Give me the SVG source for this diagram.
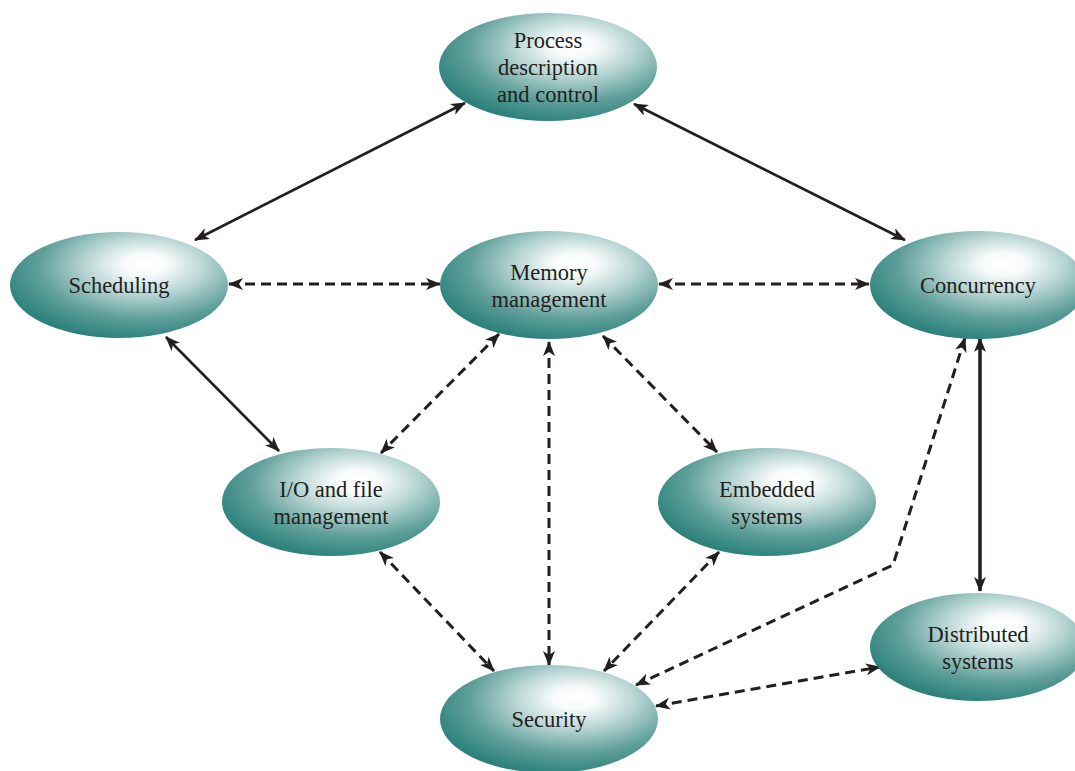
<svg xmlns="http://www.w3.org/2000/svg" width="1075" height="771" viewBox="0 0 1075 771">
<defs>
<radialGradient id="g" cx="0.62" cy="0.34" r="0.68" fx="0.62" fy="0.3">
<stop offset="0" stop-color="#ffffff"/>
<stop offset="0.15" stop-color="#f7fbfb"/>
<stop offset="0.4" stop-color="#b9d6d4"/>
<stop offset="0.72" stop-color="#5f9f9a"/>
<stop offset="1" stop-color="#2d827c"/>
</radialGradient>
<marker id="a" viewBox="0 0 15 12" refX="14" refY="6" markerWidth="15" markerHeight="12" markerUnits="userSpaceOnUse" orient="auto-start-reverse">
<path d="M0,0 L15,6 L0,12 L4,6 Z" fill="#231f20"/>
</marker>
</defs>
<style>
.n ellipse{fill:url(#g)}
.n text{font-family:"Liberation Serif","Times New Roman",serif;font-size:22.5px;fill:#231f20;text-anchor:middle}
.c path{fill:none;stroke:#231f20;stroke-width:2.6;marker-start:url(#a);marker-end:url(#a)}
.c .d{stroke-width:3;stroke-dasharray:10 6}
.c .t{stroke-width:3.6}
</style>
<rect width="1075" height="771" fill="#ffffff"/>
<g class="c" id="connectors">
<path d="M465,103 L195,240"/>
<path d="M634,104 L905,240"/>
<path class="d" d="M229,284 L440,284"/>
<path class="d" d="M659,284 L869,284"/>
<path d="M166,337 L279,451"/>
<path class="d" d="M499,334 L381,453"/>
<path class="d" d="M549,342 L549,665"/>
<path class="d" d="M603,336 L717,452"/>
<path class="t" d="M980,338 L980,591"/>
<path class="d" d="M380,552 L494,671"/>
<path class="d" d="M719,552 L604,671"/>
<path class="d" d="M965,338 L893,565 L636,685"/>
<path class="d" d="M656,706 L880,667"/>
</g>
<g class="n" id="process"><ellipse cx="548" cy="67" rx="109" ry="54"/><text x="548" y="48">Process</text><text x="548" y="75">description</text><text x="548" y="102">and control</text></g>
<g class="n" id="scheduling"><ellipse cx="119" cy="285" rx="109" ry="53"/><text x="119" y="293">Scheduling</text></g>
<g class="n" id="memory"><ellipse cx="549" cy="285" rx="109" ry="54"/><text x="549" y="280">Memory</text><text x="549" y="307">management</text></g>
<g class="n" id="concurrency"><ellipse cx="978" cy="285" rx="108" ry="54"/><text x="978" y="293">Concurrency</text></g>
<g class="n" id="io"><ellipse cx="331" cy="502" rx="109" ry="54"/><text x="331" y="497">I/O and file</text><text x="331" y="524">management</text></g>
<g class="n" id="embedded"><ellipse cx="767" cy="502" rx="109" ry="54"/><text x="767" y="497">Embedded</text><text x="767" y="524">systems</text></g>
<g class="n" id="distributed"><ellipse cx="978" cy="647" rx="108" ry="54"/><text x="978" y="642">Distributed</text><text x="978" y="669">systems</text></g>
<g class="n" id="security"><ellipse cx="549" cy="719" rx="109" ry="54"/><text x="549" y="727">Security</text></g>
</svg>
